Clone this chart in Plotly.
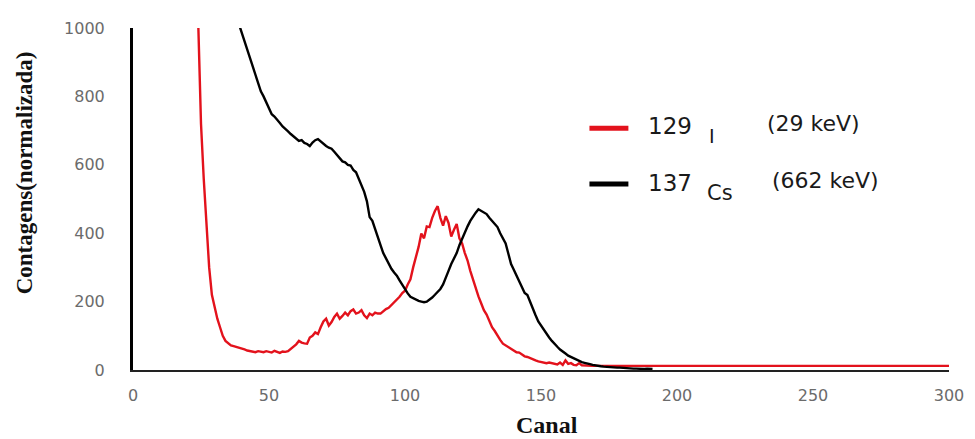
import plotly.graph_objects as go

# ---------------- data ----------------
canal_i129 = list(range(23, 171)) + [180, 200, 220, 240, 260, 280, 300]
cont_i129 = [
    1300, 1000, 720, 560, 420, 300, 220, 185, 150, 125,   # 23-32
    100, 85, 78, 72, 70, 68, 66, 63, 60, 57,              # 33-42
    56, 53, 52, 55, 54, 52, 55, 53, 51, 56,               # 43-52
    52, 50, 54, 53, 55, 62, 68, 75, 85, 80,               # 53-62
    78, 77, 95, 100, 110, 105, 125, 142, 150, 130,        # 63-72
    140, 155, 165, 150, 158, 168, 160, 172, 177, 165,     # 73-82
    168, 175, 160, 152, 165, 160, 168, 165, 165, 172,     # 83-92
    178, 182, 190, 198, 205, 214, 225, 232, 250, 265,     # 93-102
    300, 330, 360, 399, 385, 420, 418, 445, 465, 479,     # 103-112
    445, 422, 450, 430, 390, 410, 427, 385, 370, 342,     # 113-122
    320, 290, 265, 237, 215, 195, 175, 162, 145, 125,     # 123-132
    114, 100, 88, 77, 72, 65, 60, 55, 52, 51,             # 133-142
    45, 40, 38, 34, 30, 28, 25, 23, 22, 20,               # 143-152
    22, 20, 18, 16, 22, 15, 28, 18, 20, 15,               # 153-162
    14, 20, 14, 13, 12, 12, 12, 12,                       # 163-170
    12, 12, 12, 12, 12, 12, 12,                           # 180-300
]

canal_cs137 = list(range(39, 192))
cont_cs137 = [
    1010, 985, 960, 935, 912, 885, 860, 840, 815, 800,    # 39-48
    783, 765, 748, 741, 730, 722, 712, 706, 698, 690,     # 49-58
    684, 678, 670, 672, 664, 661, 655, 665, 672, 675,     # 59-68
    668, 662, 655, 650, 647, 638, 628, 618, 610, 607,     # 69-78
    600, 598, 585, 578, 560, 540, 521, 493, 447, 436,     # 79-88
    410, 390, 365, 342, 325, 310, 296, 285, 276, 262,     # 89-98
    248, 236, 224, 214, 210, 205, 202, 200, 198, 200,     # 99-108
    205, 212, 220, 228, 237, 250, 268, 290, 310, 325,     # 109-118
    342, 365, 385, 405, 420, 436, 450, 460, 470, 465,     # 119-128
    462, 456, 445, 435, 425, 418, 400, 385, 370, 340,     # 129-138
    310, 293, 275, 258, 240, 225, 219, 198, 180, 160,     # 139-148
    142, 130, 118, 105, 95, 85, 75, 68, 60, 53,           # 149-158
    48, 42, 38, 33, 30, 26, 23, 21, 20, 17,               # 159-168
    15, 13, 12, 11, 10, 9, 9, 8, 8, 7,                    # 169-178
    7, 6, 6, 5, 5, 4, 4, 3, 3, 3,                         # 179-188
    4, 3, 3,                                              # 189-191
]

x_ticks = [0, 50, 100, 150, 200, 250, 300]
y_ticks = [0, 200, 400, 600, 800, 1000]

label_i = ["129", "I", "(29 keV)"]
label_cs = ["137", "Cs", "(662 keV)"]
x_title = "Canal"
y_title = "Contagens(normalizada)"

RED = "#e3121c"
BLACK = "#000000"

# ---------------- layout geometry ----------------
# the page body adds an 8px margin, so the figure is drawn 8px smaller
OFF = 8
W, H = 975 - OFF, 439 - OFF
L, T = 133 - OFF, 19 - OFF
R = W - (950 - OFF)
B = H - (370 - OFF)
PW, PH = W - L - R, H - T - B


def px(x):
    """reference-image x pixel -> paper coordinate"""
    return (x - OFF - L) / PW


def py(y):
    """reference-image y pixel -> paper coordinate"""
    return (H - B - (y - OFF)) / PH


fig = go.Figure()
fig.add_trace(go.Scatter(x=canal_i129, y=cont_i129, mode="lines",
                         line=dict(color=RED, width=2.4), name="129I",
                         showlegend=False))
fig.add_trace(go.Scatter(x=canal_cs137, y=cont_cs137, mode="lines",
                         line=dict(color=BLACK, width=2.4), name="137Cs",
                         showlegend=False))

tick_font = dict(family="DejaVu Sans", size=16, color="#6b6b6b")

fig.update_layout(
    width=W, height=H,
    margin=dict(l=L, r=R, t=T, b=B, pad=0),
    paper_bgcolor="white", plot_bgcolor="white",
    xaxis=dict(range=[0, 300], tickvals=x_ticks, showgrid=False,
               zeroline=False, showline=True, linecolor="#222222",
               linewidth=2, ticks="", tickfont=tick_font,
               ticklabelstandoff=10),
    yaxis=dict(range=[0, 1000], tickvals=y_ticks, showgrid=False,
               zeroline=False, showline=True, linecolor="black",
               linewidth=3, ticks="", tickfont=tick_font,
               ticklabelstandoff=22),
)

# legend keys
for col, yy in [(RED, 122), (BLACK, 179)]:
    fig.add_shape(type="line", xref="paper", yref="paper",
                  x0=px(590), x1=px(629), y0=py(yy), y1=py(yy),
                  line=dict(color=col, width=5))

leg_font = "DejaVu Sans"
anns = [
    (label_i[0], 647, 120, 23, "left"),
    (label_i[1], 708, 130, 19, "left"),
    (label_i[2], 814, 117, 22, "center"),
    (label_cs[0], 647, 178, 23, "left"),
    (label_cs[1], 706, 188, 21, "left"),
    (label_cs[2], 826, 175, 22, "center"),
]
for txt, xx, yy, sz, anc in anns:
    fig.add_annotation(text=txt, xref="paper", yref="paper", x=px(xx),
                       y=py(yy), xanchor=anc, yanchor="middle",
                       showarrow=False,
                       font=dict(family=leg_font, size=sz, color="#1a1a1a"))

fig.add_annotation(text="<b>%s</b>" % x_title, xref="paper", yref="paper",
                   x=px(548), y=py(426), xanchor="center", yanchor="middle",
                   showarrow=False,
                   font=dict(family="Liberation Serif", size=24, color="#111"))
fig.add_annotation(text="<b>%s</b>" % y_title, xref="paper", yref="paper",
                   x=px(24), y=py(168), xanchor="center", yanchor="middle",
                   textangle=-90, showarrow=False,
                   font=dict(family="Liberation Serif", size=23, color="#111"))

fig.write_html("out.html")
